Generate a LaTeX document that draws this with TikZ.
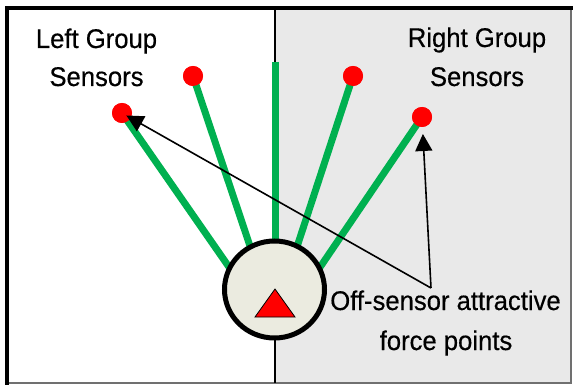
\documentclass[tikz,border=0pt]{standalone}
\usepackage{fontspec}
\setmainfont[FakeStretch=0.95,FakeBold=0.4]{Liberation Sans}
\usetikzlibrary{arrows.meta,shapes.geometric}
\definecolor{armgreen}{HTML}{00B050}
\definecolor{panegray}{HTML}{E9E9E9}
\definecolor{bodyfill}{HTML}{EBEBE0}
\definecolor{framegray}{HTML}{707070}
\tikzset{
  sensor/.style={circle,fill=red,minimum size=20pt,inner sep=0pt},
  arm/.style={armgreen,line width=7pt},
  lbl/.style={anchor=base,inner sep=0pt,font=\fontsize{27}{32}\selectfont},
  pointer/.style={line width=1.6pt,-{Triangle[length=17pt,width=17pt]}},
}
\begin{document}
\begin{tikzpicture}[x=1pt,y=-1pt]
\useasboundingbox (0,0) rectangle (573,385);
% panes
\fill[white] (7,8) rectangle (275,383);
\fill[panegray] (275,8) rectangle (571,383);
\draw[framegray,line width=2pt] (7,383) -- (571,383) -- (571,8);
\draw[black,line width=4.5pt] (7,385) -- (7,8) -- (573,8);
\draw[black,line width=1.5pt] (275,8) -- (275,383);

% sensor tips
\node[sensor] (s1) at (122,113) {};
\node[sensor] (s2) at (193,76) {};
\coordinate (s3) at (275,62);
\node[sensor] (s4) at (353,76) {};
\node[sensor] (s5) at (422,117) {};

% sensor arms, running into the robot body
\coordinate (b1) at (238,280);
\coordinate (b2) at (256,264);
\coordinate (b3) at (275,262);
\coordinate (b4) at (292,262);
\coordinate (b5) at (310,282);
\draw[arm] (s1.center) -- (b1);
\draw[arm] (s2.center) -- (b2);
\draw[arm] (s3) -- (b3);
\draw[arm] (s4.center) -- (b4);
\draw[arm] (s5.center) -- (b5);
% redraw tips above the arms
\node[sensor] at (s1) {};
\node[sensor] at (s2) {};
\node[sensor] at (s4) {};
\node[sensor] at (s5) {};

% robot body with heading marker
\node[ellipse,draw=black,line width=5pt,fill=bodyfill,minimum width=100pt,minimum height=97pt,inner sep=0pt] (robot) at (274.5,289.5) {};
\draw[black,line width=0.8pt,fill=red] (275,289) -- (295,317) -- (255,317) -- cycle;

% labels
\node[lbl] (lg1) at (96.5,48) {Left Group};
\node[lbl] (lg2) at (96.5,86) {Sensors};
\node[lbl] (rg1) at (477,47) {Right Group};
\node[lbl] (rg2) at (477,86) {Sensors};
\node[lbl] (of1) at (445.5,310) {Off-sensor attractive};
\node[lbl] (of2) at (446,350) {force points};

% attractive force pointers
\coordinate (fp) at (431,288);
\draw[pointer,shorten >=5pt] (fp) -- (s1.center);
\draw[pointer,shorten >=17pt] (fp) -- (s5.center);
\end{tikzpicture}
\end{document}
